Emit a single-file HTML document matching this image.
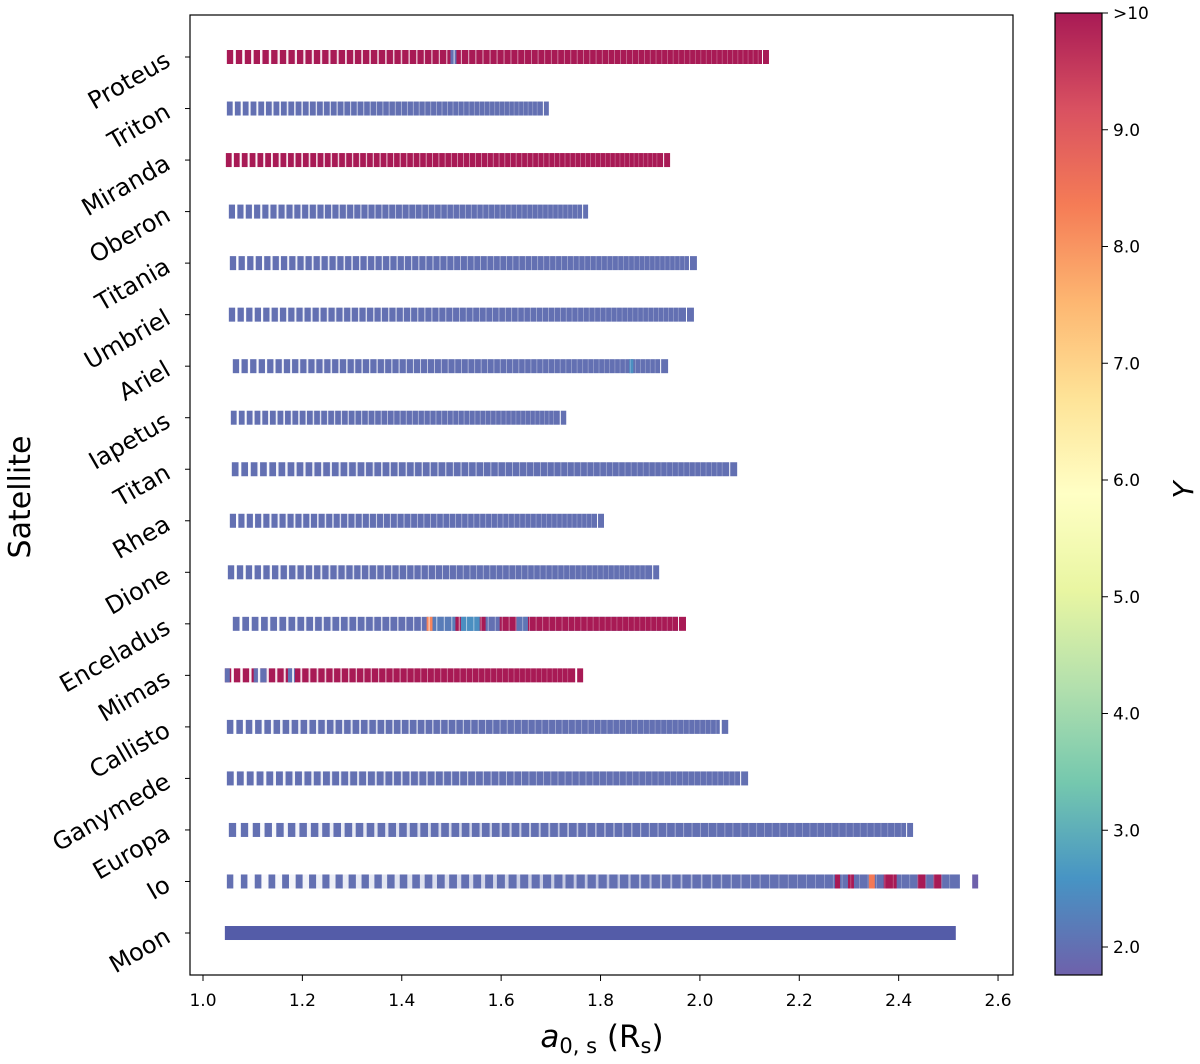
<!DOCTYPE html>
<html><head><meta charset="utf-8"><style>
body{margin:0;background:#fff;width:1200px;height:1059px;overflow:hidden;font-family:"Liberation Sans","DejaVu Sans",sans-serif}
</style></head><body>
<svg id="chart" width="1200" height="1059" xmlns="http://www.w3.org/2000/svg" font-family="DejaVu Sans, Liberation Sans, sans-serif">
<defs><linearGradient id="cbg" x1="0" y1="1" x2="0" y2="0"></linearGradient></defs>
<g id="bars"></g>
<g id="axes"></g>
</svg>
<script>
const satellites=["Proteus","Triton","Miranda","Oberon","Titania","Umbriel","Ariel","Iapetus","Titan","Rhea","Dione","Enceladus","Mimas","Callisto","Ganymede","Europa","Io","Moon"];
const barStart=[1.048,1.048,1.046,1.052,1.054,1.052,1.060,1.056,1.058,1.054,1.050,1.060,1.044,1.048,1.048,1.052,1.048,1.044];
const barEnd=[2.125,1.684,1.926,1.763,1.978,1.972,1.920,1.718,2.059,1.793,1.904,1.956,1.749,2.040,2.081,2.415,2.523,2.515];
const lastMark=[[2.127,2.139],[1.686,1.696],[1.928,1.940],[1.765,1.775],[1.980,1.994],[1.974,1.988],[1.922,1.936],[1.720,1.731],[2.061,2.075],[1.795,1.807],[1.906,1.918],[1.958,1.972],[1.753,1.765],[2.044,2.057],[2.083,2.097],[2.417,2.429],[2.548,2.560],null];
const lastY=[10.5,2.0,10.5,2.0,2.0,2.0,2.0,2.0,2.0,2.0,2.0,10.5,10.5,2.0,2.0,2.0,1.76,2.0];
const defaultY=[10.5,2.0,10.5,2.0,2.0,2.0,2.0,2.0,2.0,2.0,2.0,2.0,10.5,2.0,2.0,2.0,2.0,1.95];
const segments=[
 [[1.498,1.510,2.0]],[],[],[],[],[],[[1.858,1.866,2.5]],[],[],[],[],
 [[1.450,1.462,8.2],[1.462,1.508,2.2],[1.508,1.519,10.5],[1.519,1.557,2.5],[1.557,1.569,10.5],[1.569,1.597,2.0],[1.597,1.631,10.5],[1.631,1.654,2.1],[1.654,1.956,10.5]],
 [[1.044,1.054,2.0],[1.102,1.128,2.0],[1.171,1.185,2.1]],
 [],[],[],
 [[2.272,2.282,10.5],[2.298,2.310,10.5],[2.340,2.352,8.4],[2.370,2.396,10.5],[2.438,2.454,10.5],[2.470,2.486,10.5],[2.502,2.523,2.0]],
 []];
const firstStep=[9,8,8,8.5,8.7,8.7,8.7,8,9.5,8.5,9,9.5,9,9.5,10,12,14,0];
const gapFrac=[0.3,0.28,0.28,0.28,0.28,0.28,0.28,0.28,0.3,0.28,0.3,0.3,0.3,0.32,0.32,0.4,0.55,0];
const xTicks=[1.0,1.2,1.4,1.6,1.8,2.0,2.2,2.4,2.6];
const cbTicks=[2,3,4,5,6,7,8,9,10];
const cbLabels=["2.0","3.0","4.0","5.0","6.0","7.0","8.0","9.0",">10"];
const spectral=["#5e4fa2","#3288bd","#66c2a5","#abdda4","#e6f598","#ffffbf","#fee08b","#fdae61","#f46d43","#d53e4f","#9e0142"];
const NS="http://www.w3.org/2000/svg";
const X0=190,X1=1013,Y0=15,Y1=975;
const xs=a=>203+(a-1)*496.9;
const ys=i=>57+i*51.53;
const cbMin=1.76,cbMax=10;
const cy=v=>947-(v-2)*116.75;
function hex(h){return [1,3,5].map(k=>parseInt(h.substr(k,2),16));}
function color(v,alpha){let t=(Math.min(Math.max(v,cbMin),cbMax)-cbMin)/(cbMax-cbMin)*(spectral.length-1);let i=Math.min(Math.floor(t),spectral.length-2),f=t-i;const a=hex(spectral[i]),b=hex(spectral[i+1]);return "rgb("+a.map((c,k)=>Math.round((c+(b[k]-c)*f)*alpha+255*(1-alpha))).join(",")+")";}
function el(tag,attrs,parent){const e=document.createElementNS(NS,tag);for(const k in attrs)e.setAttribute(k,attrs[k]);parent.appendChild(e);return e;}
const bars=document.getElementById('bars'),axes=document.getElementById('axes');
satellites.forEach((s,i)=>{
 const g=el('g',{},bars);
 
 
 const y=ys(i),h=14;
 const alpha=i===17?1:0.9;
 const r=el('rect',{x:xs(barStart[i]),y:y-h/2,width:xs(barEnd[i])-xs(barStart[i]),height:h,fill:color(defaultY[i],alpha)},g);
 
 
 segments[i].forEach(sg=>{
  const q=el('rect',{x:xs(sg[0]),y:y-h/2,width:xs(sg[1])-xs(sg[0]),height:h,fill:color(sg[2],0.9)},g);
  
  
 });
 if(lastMark[i]){
  const m=el('rect',{x:xs(lastMark[i][0]),y:y-h/2,width:xs(lastMark[i][1])-xs(lastMark[i][0]),height:h,fill:color(lastY[i],0.9)},g);
  
  
 }
 if(firstStep[i]>0){
  const x0=xs(barStart[i]),x1=xs(barEnd[i]);let x=x0;const s0=firstStep[i];
  while(true){const f=(x-x0)/(x1-x0);const step=s0*(1-0.45*f);x+=step;if(x>=x1-3)break;
   const f2=(x-x0)/(x1-x0);
   const gap=Math.max(0.8,step*gapFrac[i]*(1-f2*1.1));const op=Math.max(0.3,Math.min(1,1-f2*0.8));
   el('rect',{x:x-gap,y:y-h/2-1,width:gap,height:h+2,fill:'#fff','fill-opacity':op},g);}
 }
 const lbl=el('text',{x:0,y:0,'font-size':24,'text-anchor':'end',transform:`translate(172,${y+8}) rotate(-30)`},axes);
 lbl.textContent=s;
 
 
 el('line',{x1:185,x2:190,y1:y,y2:y,stroke:'#000','stroke-width':1},axes);
});
const frame=el('rect',{x:X0,y:Y0,width:X1-X0,height:Y1-Y0,fill:'none',stroke:'#000','stroke-width':1.2},axes);


xTicks.forEach(v=>{const x=xs(v);el('line',{x1:x,x2:x,y1:975,y2:981,stroke:'#000'},axes);
 const t=el('text',{x:x,y:1006,'font-size':17,'text-anchor':'middle'},axes);t.textContent=v.toFixed(1);
 
 });
const xl=el('text',{x:602,y:1047,'font-size':31,'text-anchor':'middle'},axes);
xl.innerHTML='<tspan font-style="italic">a</tspan><tspan font-size="21" dy="6">0, s</tspan><tspan dy="-6"> (R</tspan><tspan font-size="21" dy="6">s</tspan><tspan dy="-6">)</tspan>';


const yl=el('text',{x:0,y:0,'font-size':30,'text-anchor':'middle',transform:'translate(30,497) rotate(-90)'},axes);
yl.textContent='Satellite';


const grad=document.getElementById('cbg');
spectral.forEach((c,k)=>{const v=cbMin+k*(cbMax-cbMin)/(spectral.length-1);el('stop',{offset:(k/(spectral.length-1)).toString(),'stop-color':color(v,0.9)},grad);});
const cb=el('rect',{x:1055,y:13,width:47,height:962,fill:'url(#cbg)',stroke:'#000','stroke-width':1.2},axes);


cbTicks.forEach((v,k)=>{const y=cy(v);el('line',{x1:1102,x2:1108,y1:y,y2:y,stroke:'#000'},axes);
 const t=el('text',{x:1113,y:y+6,'font-size':17},axes);t.textContent=cbLabels[k];
 
 });
const cl=el('text',{x:0,y:0,'font-size':28,'font-style':'italic','text-anchor':'middle',transform:'translate(1193,490) rotate(-90)'},axes);
cl.textContent='Y';


</script>
</body></html>
